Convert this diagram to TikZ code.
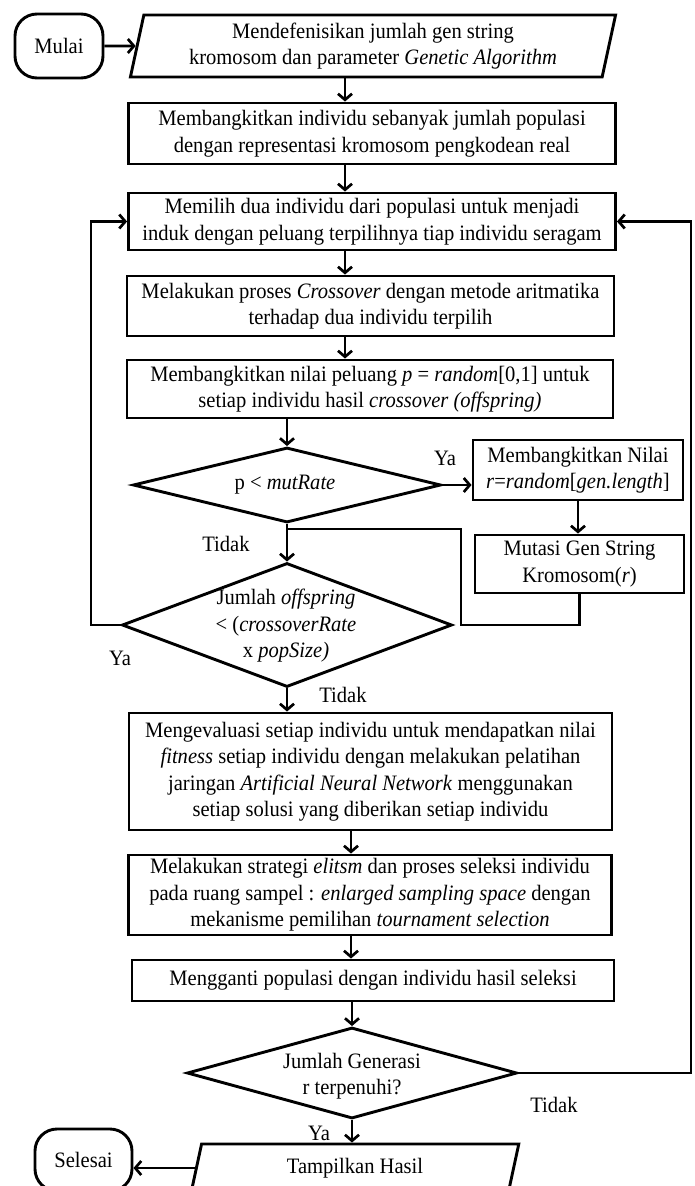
\documentclass[tikz,border=0pt]{standalone}
\usepackage{fontspec}
\setmainfont{Liberation Serif}[FakeStretch=0.935]
\usetikzlibrary{arrows.meta,shapes.geometric}
\begin{document}
\begin{tikzpicture}[x=1pt,y=-1pt,
  every node/.style={font=\fontsize{22}{26.5}\selectfont, inner sep=0pt},
  proc/.style={draw, line width=2.9pt, rectangle, align=center},
  term/.style={draw, line width=2.9pt, rectangle, rounded corners=22pt, align=center},
  io/.style={draw, line width=2.9pt, trapezium, trapezium left angle=77, trapezium right angle=103, trapezium stretches=true, align=center},
  dia/.style={draw, line width=2.9pt, diamond},
  arr/.style={line width=2.7pt, -{Straight Barb[length=6pt,width=14pt]}},
  conn/.style={line width=2.7pt},
  lbl/.style={}
]
\useasboundingbox (0,0) rectangle (694,1186);
\clip (0,0) rectangle (694,1186);

\coordinate (ax1) at (345,0);
\coordinate (ax2) at (351,0);
\coordinate (lx) at (91,0);
\coordinate (rx) at (691,0);
\coordinate (m1) at (461,625);
\coordinate (m2) at (461,529);

\node[term, minimum width=88pt, minimum height=64pt] (mulai) at (59,46) {Mulai};
\node[io, minimum width=486pt, minimum height=62pt] (p1) at (373,46)
  {Mendefenisikan jumlah gen string\\kromosom dan parameter \textit{Genetic Algorithm}};
\node[proc, minimum width=487pt, minimum height=61pt] (b2) at (372,133.5)
  {Membangkitkan individu sebanyak jumlah populasi\\dengan representasi kromosom pengkodean real};
\node[proc, minimum width=487pt, minimum height=57pt] (b3) at (372,221.5)
  {Memilih dua individu dari populasi untuk menjadi\\induk dengan peluang terpilihnya tiap individu seragam};
\node[proc, minimum width=487pt, minimum height=60pt] (b4) at (370.5,306)
  {Melakukan proses \textit{Crossover} dengan metode aritmatika\\terhadap dua individu terpilih};
\node[proc, minimum width=486pt, minimum height=58pt] (b5) at (370,389)
  {Membangkitkan nilai peluang \textit{p} = \textit{random}[0,1] untuk\\setiap individu hasil \textit{crossover (offspring)}};
\node[dia, minimum width=308pt, minimum height=75pt] (d1) at (287,485) {};
\node (d1t) at (285,485) {p < \textit{mutRate}};
\node[proc, minimum width=210pt, minimum height=60pt] (b6) at (578,470)
  {Membangkitkan Nilai\\\textit{r}=\textit{random}[\textit{gen.length}]};
\node[proc, minimum width=209pt, minimum height=58pt] (b7) at (579.5,564)
  {Mutasi Gen String\\Kromosom(\textit{r})};
\node[dia, minimum width=330pt, minimum height=124pt] (d2) at (287,625) {};
\node[align=center] (d2t) at (286,626)
  {Jumlah \textit{offspring}\\< (\textit{crossoverRate}\\x \textit{popSize)}};
\node[proc, minimum width=483pt, minimum height=117pt] (b8) at (370.5,771.5)
  {Mengevaluasi setiap individu untuk mendapatkan nilai\\\textit{fitness} setiap individu dengan melakukan pelatihan\\jaringan \textit{Artificial Neural Network} menggunakan\\setiap solusi yang diberikan setiap individu};
\node[proc, minimum width=483pt, minimum height=80pt] (b9) at (370,895)
  {Melakukan strategi \textit{elitsm} dan proses seleksi individu\\pada ruang sampel : \textit{enlarged sampling space} dengan\\mekanisme pemilihan \textit{tournament selection}};
\node[proc, minimum width=482pt, minimum height=41pt] (b10) at (373,980.5)
  {Mengganti populasi dengan individu hasil seleksi};
\node[dia, minimum width=330pt, minimum height=91pt] (d3) at (352,1073) {};
\node[align=center] (d3t) at (352,1076) {Jumlah Generasi\\r terpenuhi?};
\node[io, minimum width=328pt, minimum height=48pt] (p2) at (355,1168) {Tampilkan Hasil};
\node[term, minimum width=97pt, minimum height=62pt] (sel) at (83.5,1160) {Selesai};

\node[lbl] (ya1) at (445,458) {Ya};
\node[lbl] (td1) at (226,544) {Tidak};
\node[lbl] (ya2) at (120,658) {Ya};
\node[lbl] (td2) at (343,695) {Tidak};
\node[lbl] (td3) at (554,1105) {Tidak};
\node[lbl] (ya3) at (319,1133) {Ya};

\draw[arr] (mulai.east) -- (p1.west);
\draw[arr] (p1.south -| ax1) -- (b2.north -| ax1);
\draw[arr] (b2.south -| ax1) -- (b3.north -| ax1);
\draw[arr] (b3.south -| ax1) -- (b4.north -| ax1);
\draw[arr] (b4.south -| ax1) -- (b5.north -| ax1);
\draw[arr] (b5.south -| d1.north) -- (d1.north);
\draw[arr] (d1.east) -- (d1.east -| b6.west);
\draw[arr] (b6.south) -- (b7.north -| b6.south);
\draw[conn] (b7.south) |- (m1) -- (m2) -- (m2 -| d1.south);
\draw[arr] (d1.south) -- (d2.north);
\draw[arr] (d2.west) -- (d2.west -| lx) |- (b3.west);
\draw[arr] (d2.south) -- (b8.north -| d2.south);
\draw[arr] (b8.south -| ax2) -- (b9.north -| ax2);
\draw[arr] (b9.south -| ax2) -- (b10.north -| ax2);
\draw[arr] (b10.south -| d3.north) -- (d3.north);
\draw[arr] (d3.east) -- (d3.east -| rx) |- (b3.east);
\draw[arr] (d3.south) -- (p2.north -| d3.south);
\draw[arr] (p2.west) -- (p2.west -| sel.east);
\end{tikzpicture}
\end{document}
